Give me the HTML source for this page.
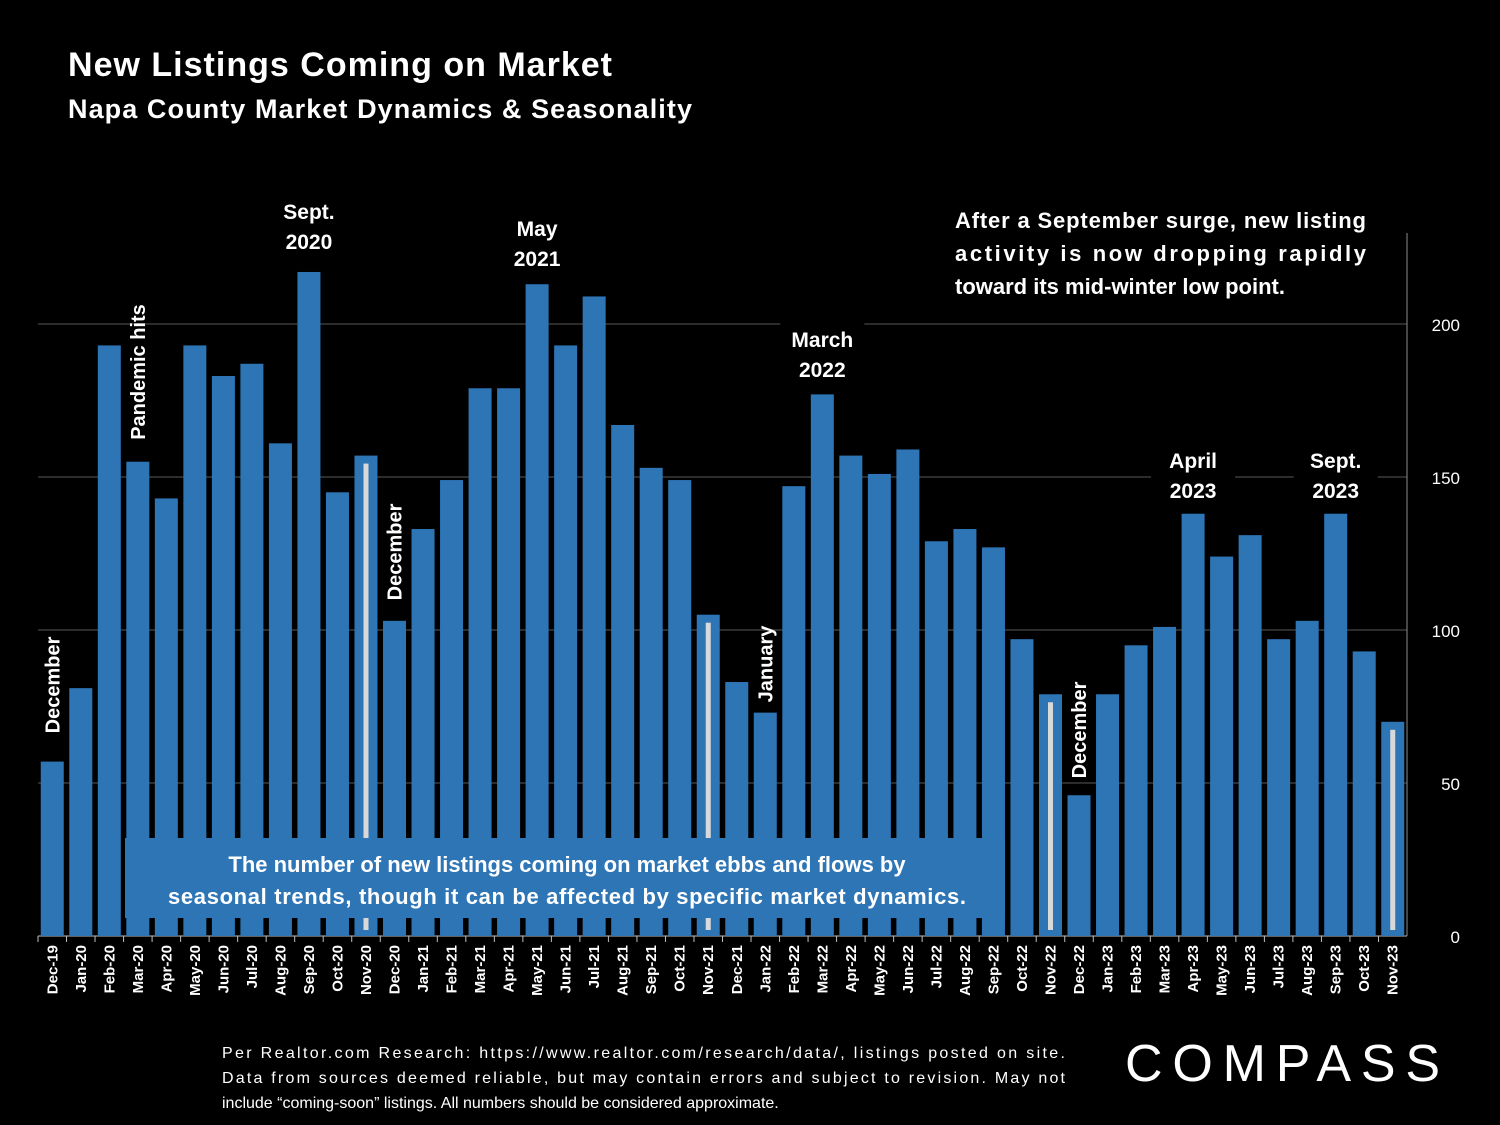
<!DOCTYPE html>
<html><head><meta charset="utf-8"><style>
body{margin:0;background:#000;}
svg{display:block;font-family:"Liberation Sans",sans-serif;}
</style></head><body>
<svg id="c" width="1500" height="1125" viewBox="0 0 1500 1125">
<rect width="1500" height="1125" fill="#000"/>
<text x="68" y="76" fill="#fff" font-size="34" font-weight="bold" textLength="544">New Listings Coming on Market</text>
<text x="68" y="118" fill="#fff" font-size="27" font-weight="bold" textLength="624">Napa County Market Dynamics &amp; Seasonality</text>
<g id="grid"></g><g id="bars"></g><g id="xl"></g><g id="yl"></g><g id="ann"></g>
<rect x="125" y="838" width="880" height="80" fill="#2e75b6"/>
<text x="567" y="872" fill="#fff" font-size="22" font-weight="bold" text-anchor="middle">The number of new listings coming on market ebbs and flows by</text>
<text x="567" y="904" fill="#fff" font-size="22" font-weight="bold" text-anchor="middle" textLength="798">seasonal trends, though it can be affected by specific market dynamics.</text>
<g font-size="22" font-weight="bold" fill="#fff">
<text x="955" y="228" textLength="411">After a September surge, new listing</text>
<text x="955" y="261" textLength="411">activity is now dropping rapidly</text>
<text x="955" y="294">toward its mid-winter low point.</text>
</g>
<g font-size="16" fill="#fff">
<text x="222" y="1058" textLength="843">Per Realtor.com Research:  https://www.realtor.com/research/data/, listings posted on site.</text>
<text x="222" y="1083" textLength="843">Data from sources deemed reliable, but may contain errors and subject to revision. May not</text>
<text x="222" y="1108">include “coming-soon” listings. All numbers should be considered approximate.</text>
</g>
<text x="1125" y="1081" fill="#fff" font-size="52" textLength="315">COMPASS</text>
</svg>
<script>
const categories=["Dec-19","Jan-20","Feb-20","Mar-20","Apr-20","May-20","Jun-20","Jul-20","Aug-20","Sep-20","Oct-20","Nov-20","Dec-20","Jan-21","Feb-21","Mar-21","Apr-21","May-21","Jun-21","Jul-21","Aug-21","Sep-21","Oct-21","Nov-21","Dec-21","Jan-22","Feb-22","Mar-22","Apr-22","May-22","Jun-22","Jul-22","Aug-22","Sep-22","Oct-22","Nov-22","Dec-22","Jan-23","Feb-23","Mar-23","Apr-23","May-23","Jun-23","Jul-23","Aug-23","Sep-23","Oct-23","Nov-23"];
const values=[57,81,193,155,143,193,183,187,161,217,145,157,103,133,149,179,179,213,193,209,167,153,149,105,83,73,147,177,157,151,159,129,133,127,97,79,46,79,95,101,138,124,131,97,103,138,93,70];
const yTicks=[0,50,100,150,200];
const NS="http://www.w3.org/2000/svg";
const x0=38,x1=1407,y0=936,yTop=324,vTop=200;
const slot=(x1-x0)/categories.length,bw=23;
const ys=v=>y0-(v/vTop)*(y0-yTop);
const xs=i=>x0+i*slot+(slot-bw)/2;
function mk(t,a,p){const e=document.createElementNS(NS,t);for(const k in a)e.setAttribute(k,a[k]);p.appendChild(e);return e;}
const grid=document.getElementById('grid'),bars=document.getElementById('bars'),xl=document.getElementById('xl'),yl=document.getElementById('yl'),ann=document.getElementById('ann');
yTicks.forEach(t=>{
  if(t>0){const g=mk('line',{x1:x0,x2:x1,y1:ys(t),y2:ys(t),stroke:'#595959','stroke-width':1},grid);
  
  }
  const l=mk('text',{x:1460,y:ys(t)+7,fill:'#fff','font-size':17,'text-anchor':'end'},yl);l.textContent=t;
  
  
});
const ax=mk('line',{x1:x1,x2:x1,y1:233,y2:y0,stroke:'#8c8c8c'},grid);


const bx=mk('line',{x1:x0,x2:x1,y1:y0,y2:y0,stroke:'#bfbfbf'},grid);


categories.forEach((c,i)=>{
  const v=values[i],x=xs(i);
  const r=mk('rect',{x:x,y:ys(v),width:bw,height:y0-ys(v),fill:'#2e75b6'},bars);
  
  
  if(c.startsWith('Nov')&&i>0){
    const w=mk('rect',{x:x+bw/2-2.5,y:ys(v)+8,width:5,height:y0-ys(v)-14,fill:'#d9d9d9'},bars);
    
    
  }
  const tk=mk('line',{x1:x0+i*slot,x2:x0+i*slot,y1:y0,y2:y0+6,stroke:'#bfbfbf'},grid);
  
  
  const cx=x+bw/2+5;
  const t=mk('text',{x:0,y:0,fill:'#fff','font-size':15,'font-weight':'bold','text-anchor':'end',transform:`translate(${cx},945) rotate(-90)`},xl);
  t.textContent=c;
  
  
});
function rot(txt,i,cy){const cx=xs(i)+bw/2+7;const t=mk('text',{fill:'#fff','font-size':20,'font-weight':'bold','text-anchor':'middle',transform:`translate(${cx},${cy}) rotate(-90)`},ann);t.textContent=txt;
  
  }
rot('December',0,685);rot('Pandemic hits',3,372);rot('December',12,552);rot('January',25,664);rot('December',36,730);
function lab(l1,l2,i,y){const cx=xs(i)+bw/2;mk('rect',{x:cx-42,y:y-24,width:84,height:62,fill:'#000'},ann);
  [l1,l2].forEach((s,k)=>{const t=mk('text',{x:cx,y:y+k*30,fill:'#fff','font-size':21,'font-weight':'bold','text-anchor':'middle'},ann);t.textContent=s;
  
  });}
lab('Sept.','2020',9,219);lab('May','2021',17,236);lab('March','2022',27,347);lab('April','2023',40,468);lab('Sept.','2023',45,468);
</script>
</body></html>
